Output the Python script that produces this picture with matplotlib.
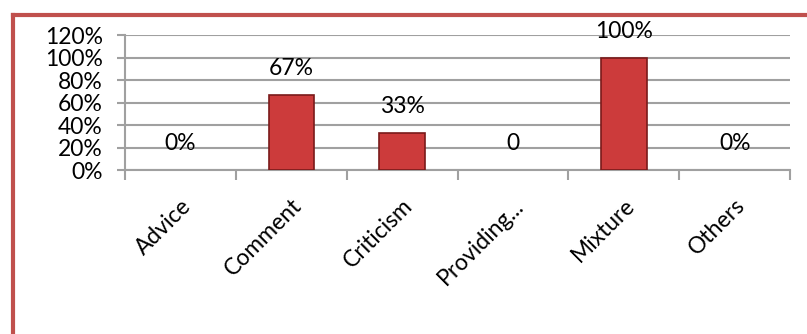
import matplotlib.pyplot as plt
from matplotlib.lines import Line2D
from matplotlib.ticker import PercentFormatter

# data
categories = ['Advice', 'Comment', 'Criticism', 'Providing...', 'Mixture', 'Others']
values = [0, 67, 33, 0, 100, 0]
labels = ['0%', '67%', '33%', '0', '100%', '0%']
yticks = [0, 20, 40, 60, 80, 100, 120]

plt.rcParams['font.family'] = ['Lato', 'DejaVu Sans']
fs = 16.5

fig = plt.figure(figsize=(8.07, 3.34), dpi=100)
ax = fig.add_axes([0.155, 0.491, 0.824, 0.404])

x = list(range(len(categories)))
bars = ax.bar(x, values, width=0.41, color='#CC3B3B', edgecolor='#7A1A1A', linewidth=1.2, zorder=3)
for b, v in zip(bars, values):
    if v == 0:
        b.set_visible(False)

for xi, v, lab in zip(x, values, labels):
    ax.annotate(lab, (xi, v), xytext=(0, 19), textcoords='offset points',
                ha='center', va='center', fontsize=fs, color='black', zorder=4)

ax.set_xlim(-0.5, len(categories) - 0.5)
ax.set_ylim(0, 120)
ax.set_yticks(yticks)
ax.yaxis.set_major_formatter(PercentFormatter(decimals=0))
ax.grid(axis='y', color='#A0A0A0', linewidth=1.5, zorder=0)

# tick marks at category boundaries, labels at centres
ax.set_xticks([i - 0.5 for i in range(len(categories) + 1)])
ax.set_xticklabels([])
ax.set_xticks(x, minor=True)
ax.set_xticklabels(categories, minor=True, rotation=45, ha='right',
                   rotation_mode='anchor', fontsize=fs)
ax.tick_params(axis='x', which='minor', length=0, pad=18)
ax.tick_params(axis='x', which='major', length=7, width=1.5, color='#A0A0A0')
ax.tick_params(axis='y', length=6, width=1.5, color='#A0A0A0', labelsize=fs, pad=10)

for s in ['top', 'right']:
    ax.spines[s].set_visible(False)
for s in ['left', 'bottom']:
    ax.spines[s].set_color('#A0A0A0')
    ax.spines[s].set_linewidth(1.5)

# red frame on top and left
fig.add_artist(Line2D([0.0155, 1.0], [0.955, 0.955], color='#C0504D', linewidth=3, transform=fig.transFigure))
fig.add_artist(Line2D([0.0155, 0.0155], [0.0, 0.955], color='#C0504D', linewidth=3, transform=fig.transFigure))

fig.savefig('out.png', dpi=100)
